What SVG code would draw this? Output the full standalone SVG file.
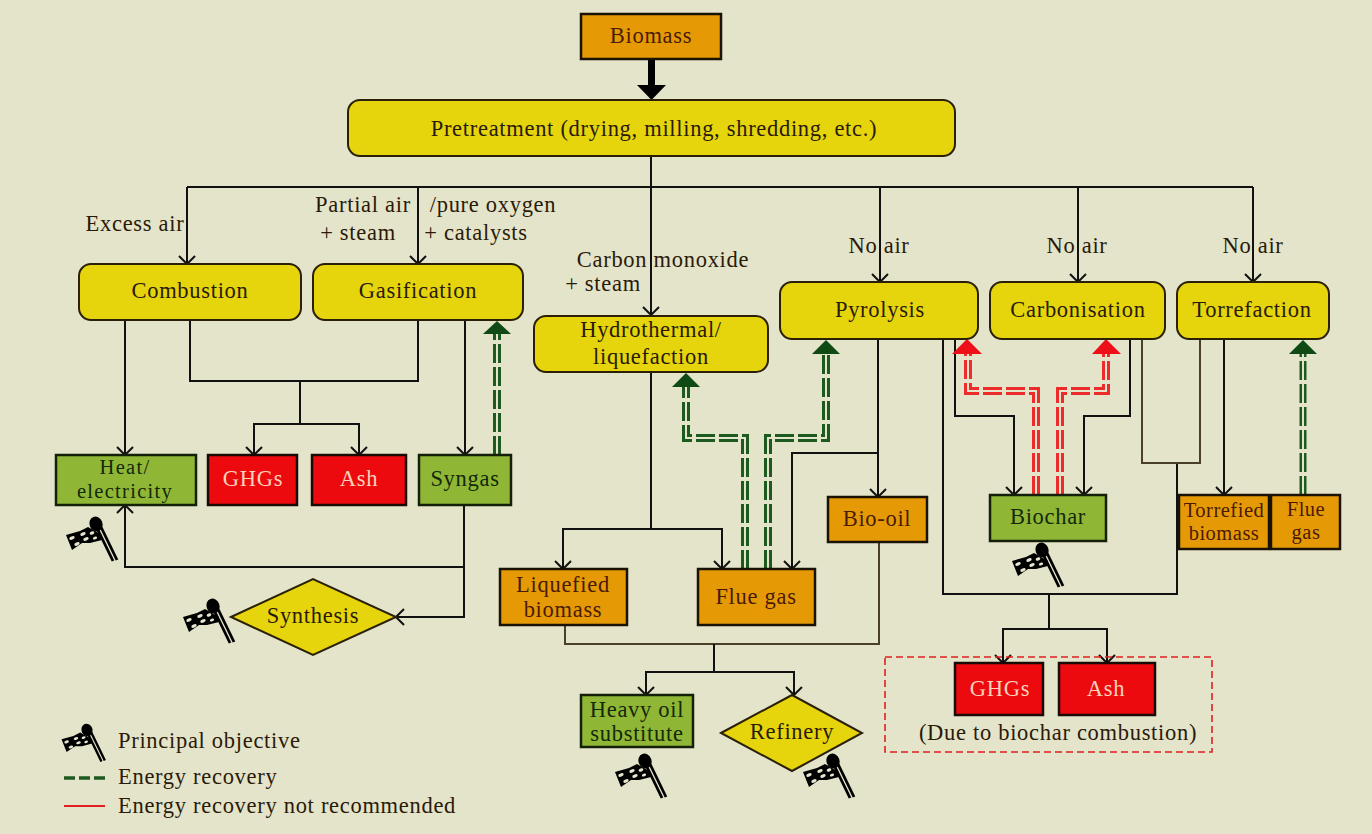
<svg xmlns="http://www.w3.org/2000/svg" width="1372" height="834" viewBox="0 0 1372 834">
<style>
text{font-family:"Liberation Serif","Times New Roman",serif;font-size:22.5px;letter-spacing:.7px;fill:#2a1a08;text-anchor:middle}
.leg{text-anchor:start}
.wt{fill:#f9d3ba}
.dg{fill:#14280a}
.dr{fill:#4a1a05}
.tight{font-size:20.5px;letter-spacing:.5px}
.heat{font-size:20.5px;letter-spacing:1.3px}
.n{stroke:#2a2008;stroke-width:2}
.y{fill:#e6d50c}.o{fill:#e59a05;stroke:#1a1205;stroke-width:2.5}.g{fill:#8fb735;stroke:#14200a;stroke-width:2.5}.r{fill:#ec0a0e;stroke:#1a0a05;stroke-width:2.5}
.c{fill:none;stroke:#111;stroke-width:2}
.b{fill:none;stroke:#4a4028;stroke-width:2}
.gd{fill:none;stroke:#1d5a1f;stroke-width:8;stroke-dasharray:19 4}
.rd{fill:none;stroke:#ee2b2b;stroke-width:8;stroke-dasharray:19 4}
.gap{fill:none;stroke:#e4e4ca;stroke-width:2}
</style>
<defs>
<marker id="a" viewBox="0 0 10 18" refX="9" refY="9" markerWidth="10" markerHeight="18" markerUnits="userSpaceOnUse" orient="auto"><path d="M1 1L9 9L1 17" fill="none" stroke="#111" stroke-width="2"/></marker>
<g id="flag">
<ellipse cx="0" cy="0" rx="6.500" ry="7.500" transform="rotate(-20)" fill="#000"/>
<path d="M1 4L17 37M5 3L21 36" stroke="#000" stroke-width="2.800" fill="none"/>
<path d="M-30 11L-16 7L-8 3L6 11L6 16L-6 19L-14 19L-24 26Z" fill="#000"/>
<g fill="#e8e8d2">
<ellipse cx="-24" cy="14" rx="2.800" ry="1.600" transform="rotate(-20 -24 14)"/>
<ellipse cx="-13" cy="10" rx="2.800" ry="1.600" transform="rotate(-20 -13 10)"/>
<ellipse cx="-4" cy="9" rx="2.400" ry="1.500" transform="rotate(-20 -4 9)"/>
<ellipse cx="-19" cy="20" rx="2.800" ry="1.600" transform="rotate(-20 -19 20)"/>
<ellipse cx="-10" cy="15" rx="2.800" ry="1.600" transform="rotate(-20 -10 15)"/>
<ellipse cx="-1" cy="14" rx="2.200" ry="1.400" transform="rotate(-20 -1 14)"/>
</g>
</g>
</defs>
<rect width="1372" height="834" fill="#e4e4ca"/>
<g id="connectors">
<path d="M651 156V315" class="c" marker-end="url(#a)"/>
<path d="M187 187H1253" class="c"/>
<path d="M187 187V264" class="c" marker-end="url(#a)"/>
<path d="M418 187V264" class="c" marker-end="url(#a)"/>
<path d="M880 187V282" class="c" marker-end="url(#a)"/>
<path d="M1078 187V282" class="c" marker-end="url(#a)"/>
<path d="M1253 187V282" class="c" marker-end="url(#a)"/>
<path d="M125 320V455" class="c" marker-end="url(#a)"/>
<path d="M190 320V381H418V320M300 381V424" class="c"/>
<path d="M300 424H254V455" class="c" marker-end="url(#a)"/>
<path d="M300 424H359V455" class="c" marker-end="url(#a)"/>
<path d="M465 320V455" class="c" marker-end="url(#a)"/>
<path d="M464 505V617H396" class="c" marker-end="url(#a)"/>
<path d="M464 567H125V505" class="c" marker-end="url(#a)"/>
<path d="M651 372V530" class="c"/>
<path d="M651 529H563V569" class="c" marker-end="url(#a)"/>
<path d="M651 529H722V569" class="c" marker-end="url(#a)"/>
<path d="M878 339V497" class="c" marker-end="url(#a)"/>
<path d="M878 453H792V569" class="c" marker-end="url(#a)"/>
<path d="M565 625V644H879V542" class="b"/>
<path d="M714 644V672" class="c"/>
<path d="M714 672H646V695" class="c" marker-end="url(#a)"/>
<path d="M714 672H794V695" class="c" marker-end="url(#a)"/>
<path d="M943 339V594H1177V463" class="c"/>
<path d="M1142 339V463H1200V339" class="b"/>
<path d="M955 339V416H1014V495" class="c" marker-end="url(#a)"/>
<path d="M1130 339V416H1084V495" class="c" marker-end="url(#a)"/>
<path d="M1224 339V495" class="c" marker-end="url(#a)"/>
<path d="M1049 594V629" class="c"/>
<path d="M1049 629H1003V663" class="c" marker-end="url(#a)"/>
<path d="M1049 629H1107V663" class="c" marker-end="url(#a)"/>
<path id="thick" d="M651.500 59V88" stroke="#000" stroke-width="7" fill="none"/>
<path d="M637 85H666L651.500 100Z" fill="#000"/>
<path d="M497 455V333" class="gd"/><path d="M497 455V333" class="gap"/>
<path d="M483 334H511L497 321Z" fill="#0f4a14"/>
<path d="M745 569V438H686V387" class="gd"/><path d="M745 569V438H686V387" class="gap"/>
<path d="M672 387H700L686 373Z" fill="#0f4a14"/>
<path d="M768 569V438H826V354" class="gd"/><path d="M768 569V438H826V354" class="gap"/>
<path d="M812 354H840L826 340Z" fill="#0f4a14"/>
<path d="M1303 495V354" class="gd" style="stroke-width:7"/><path d="M1303 495V354" class="gap"/>
<path d="M1289 354H1317L1303 340Z" fill="#0f4a14"/>
<path d="M1036 495V391H968V354" class="rd"/><path d="M1036 495V391H968V354" class="gap"/>
<path d="M952 354H982L967 339Z" fill="#ee0f18"/>
<path d="M1060 495V391H1106V354" class="rd"/><path d="M1060 495V391H1106V354" class="gap"/>
<path d="M1092 354H1121L1106 339Z" fill="#ee0f18"/>
<rect id="red-dashed-box" x="885" y="657" width="327" height="95" fill="none" stroke="#e02020" stroke-width="1.600" stroke-dasharray="7 4"/>
</g>
<g id="biomass"><rect x="581" y="14" width="140" height="45" class="o"/><text x="651" y="43" class="dr">Biomass</text></g>
<g id="pretreatment"><rect x="348" y="100" width="607" height="56" rx="12" class="y n"/><text x="654" y="136">Pretreatment (drying, milling, shredding, etc.)</text></g>
<g id="combustion"><rect x="79" y="264" width="222" height="56" rx="12" class="y n"/><text x="190" y="298">Combustion</text></g>
<g id="gasification"><rect x="313" y="264" width="210" height="56" rx="12" class="y n"/><text x="418" y="298">Gasification</text></g>
<g id="hydrothermal"><rect x="534" y="316" width="234" height="56" rx="12" class="y n"/><text x="651" y="337">Hydrothermal/</text><text x="651" y="364">liquefaction</text></g>
<g id="pyrolysis"><rect x="780" y="282" width="198" height="57" rx="12" class="y n"/><text x="880" y="317">Pyrolysis</text></g>
<g id="carbonisation"><rect x="990" y="282" width="175" height="57" rx="12" class="y n"/><text x="1078" y="317">Carbonisation</text></g>
<g id="torrefaction"><rect x="1177" y="282" width="152" height="57" rx="12" class="y n"/><text x="1252" y="317">Torrefaction</text></g>
<g id="heat"><rect x="56" y="455" width="140" height="50" class="g"/><text x="125" y="474" class="dg heat">Heat/</text><text x="125" y="498" class="dg heat">electricity</text></g>
<g id="ghgs1"><rect x="208" y="455" width="89" height="50" class="r"/><text x="253" y="486" class="wt">GHGs</text></g>
<g id="ash1"><rect x="312" y="455" width="94" height="50" class="r"/><text x="359" y="486" class="wt">Ash</text></g>
<g id="syngas"><rect x="419" y="455" width="92" height="50" class="g"/><text x="465" y="486" class="dg">Syngas</text></g>
<g id="synthesis"><path d="M231 617L313 579L396 617L313 655Z" class="y n"/><text x="313" y="623">Synthesis</text></g>
<g id="liquefied"><rect x="500" y="569" width="127" height="56" class="o"/><text x="563" y="592" class="dr">Liquefied</text><text x="563" y="617" class="dr">biomass</text></g>
<g id="fluegas1"><rect x="698" y="569" width="117" height="56" class="o"/><text x="756" y="604" class="dr">Flue gas</text></g>
<g id="biooil"><rect x="828" y="497" width="99" height="45" class="o"/><text x="877" y="526" class="dr">Bio-oil</text></g>
<g id="biochar"><rect x="990" y="495" width="116" height="46" class="g"/><text x="1048" y="524" class="dg">Biochar</text></g>
<g id="torrefied"><rect x="1179" y="495" width="90" height="54" class="o"/><text x="1224" y="517" class="dr tight">Torrefied</text><text x="1224" y="540" class="dr tight">biomass</text></g>
<g id="fluegas2"><rect x="1271" y="495" width="69" height="54" class="o"/><text x="1306" y="516" class="dr tight">Flue</text><text x="1306" y="539" class="dr tight">gas</text></g>
<g id="heavyoil"><rect x="581" y="695" width="112" height="52" class="g"/><text x="637" y="717" class="dg">Heavy oil</text><text x="637" y="741" class="dg">substitute</text></g>
<g id="refinery"><path d="M721 733L792 695L862 733L792 771Z" class="y n"/><text x="792" y="739">Refinery</text></g>
<g id="ghgs2"><rect x="955" y="663" width="88" height="52" class="r"/><text x="1000" y="696" class="wt">GHGs</text></g>
<g id="ash2"><rect x="1059" y="663" width="96" height="52" class="r"/><text x="1106" y="696" class="wt">Ash</text></g>
<g id="labels">
<text x="135" y="231">Excess  air</text>
<text x="363" y="212">Partial air</text>
<text x="358" y="240">+ steam</text>
<text x="493" y="212">/pure oxygen</text>
<text x="476" y="240">+ catalysts</text>
<text x="663" y="267">Carbon  monoxide</text>
<text x="603" y="291">+ steam</text>
<text x="879" y="253">No  air</text>
<text x="1077" y="253">No  air</text>
<text x="1253" y="253">No  air</text>
<text x="1058" y="740">(Due to biochar combustion)</text>
</g>
<g id="flags">
<use href="#flag" x="96" y="524"/>
<use href="#flag" x="213" y="606"/>
<use href="#flag" x="645" y="761"/>
<use href="#flag" x="833" y="761"/>
<use href="#flag" x="1042" y="550"/>
</g>
<g id="legend">
<use href="#flag" transform="translate(87 730) scale(.85)"/>
<text x="118" y="748" class="leg">Principal objective</text>
<path d="M64 778H105" stroke="#1d5a1f" stroke-width="3.500" stroke-dasharray="11 4" fill="none"/>
<text x="118" y="784" class="leg">Energy recovery</text>
<path d="M64 806H105" stroke="#e02020" stroke-width="2" fill="none"/>
<text x="118" y="813" class="leg">Energy recovery not recommended</text>
</g>
</svg>
